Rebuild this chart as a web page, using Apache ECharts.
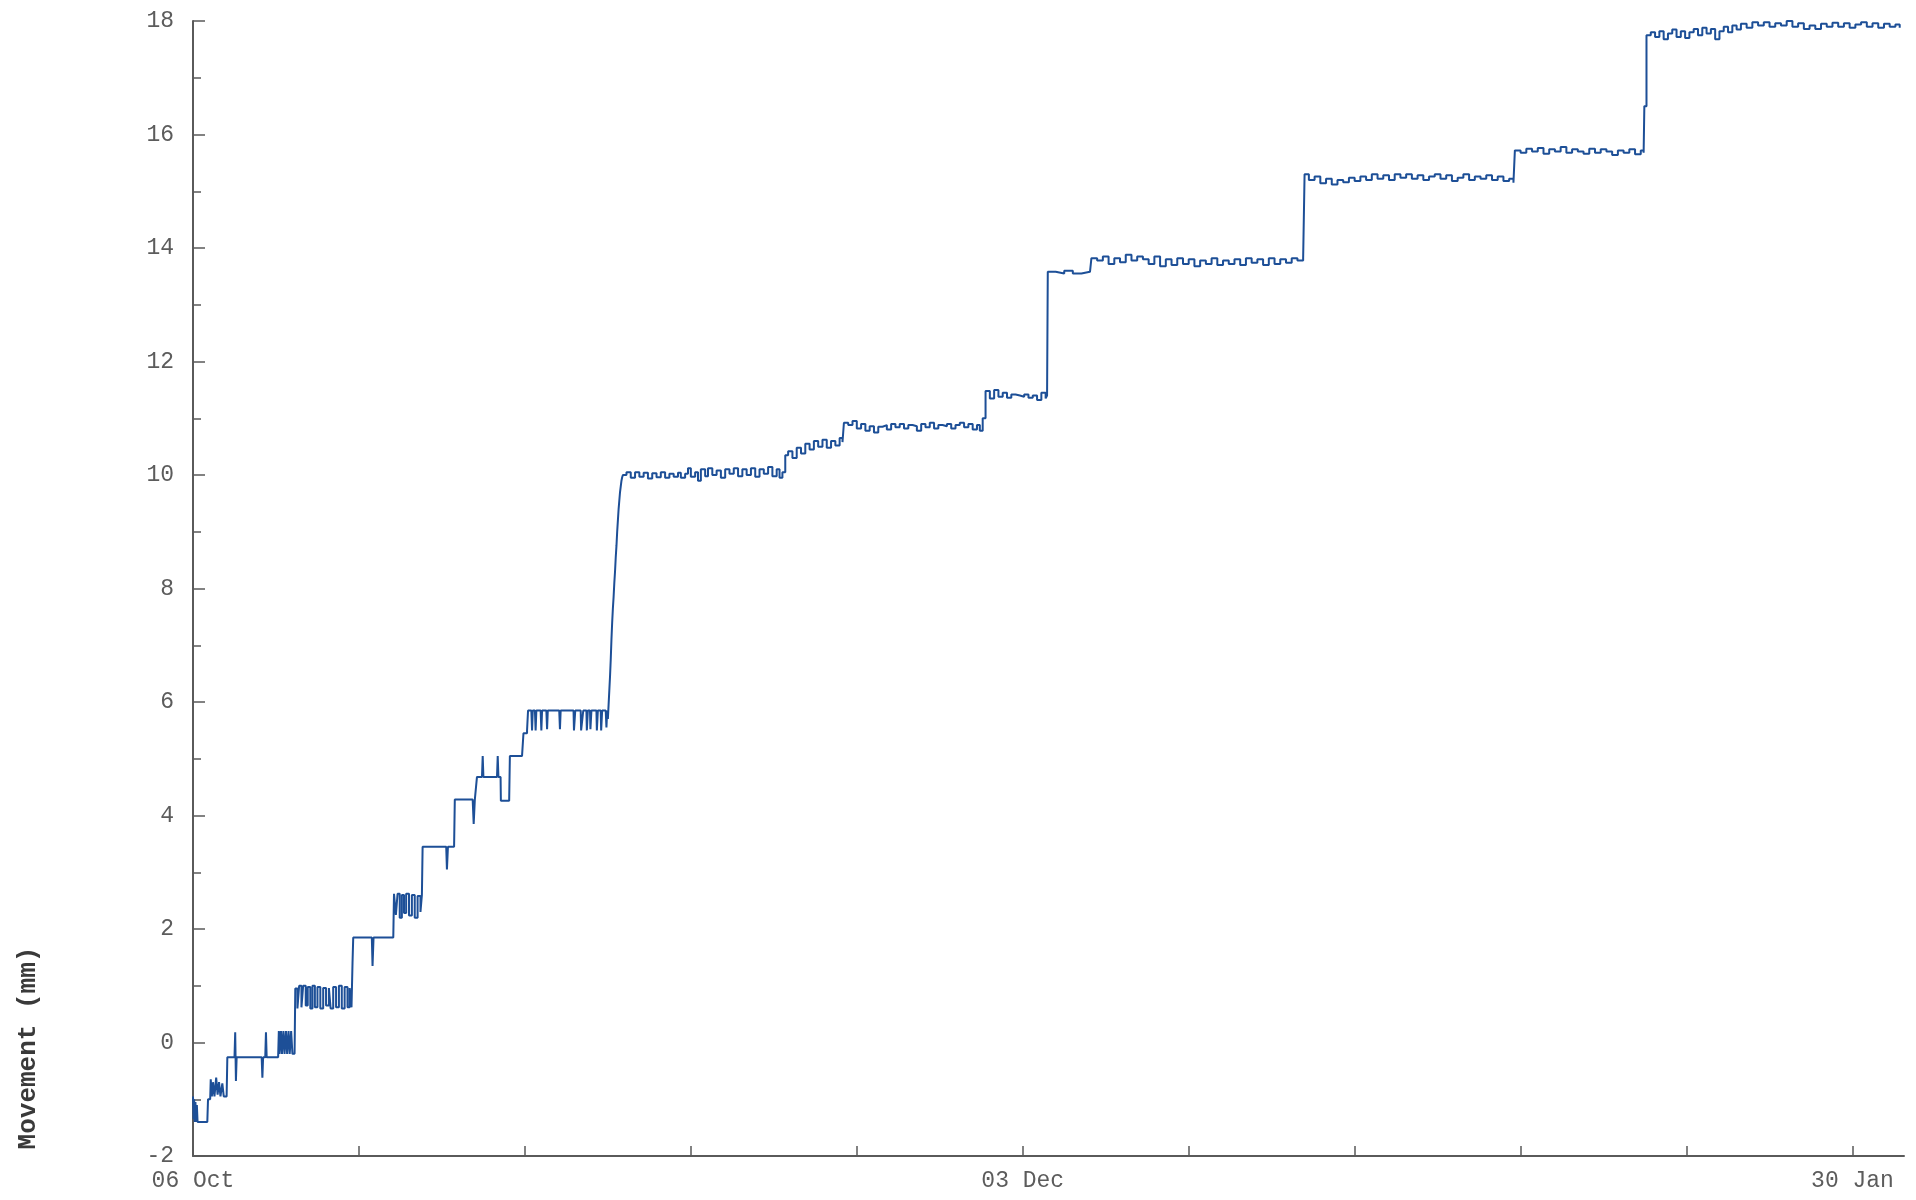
<!DOCTYPE html>
<html>
<head>
<meta charset="utf-8">
<script src="https://cdn.jsdelivr.net/npm/echarts@6/dist/echarts.min.js"></script>
<style>
html,body{margin:0;padding:0;background:#fff;}
#chart{width:1916px;height:1200px;}
</style>
</head>
<body>
<div id="chart"></div>
<script>
// Days since 06 Oct, movement in mm
const earlyReadings = [[0.00,-0.95],[0.04,-1.35],[0.08,-1.00],[0.12,-1.40],[0.17,-1.05],[0.22,-1.40],[0.27,-1.10],[0.32,-1.40],[1.00,-1.40],[1.05,-1.00],[1.20,-1.00],[1.24,-0.65],[1.32,-0.95],[1.40,-0.70],[1.50,-0.95],[1.62,-0.62],[1.72,-0.92],[1.82,-0.70],[1.92,-0.95],[2.05,-0.72],[2.15,-0.95],[2.35,-0.95],[2.40,-0.26],[2.90,-0.26],[2.95,0.18],[3.00,-0.68],[3.05,-0.26],[4.80,-0.26],[4.85,-0.62],[4.90,-0.26],[5.05,-0.26],[5.10,0.18],[5.15,-0.26],[5.95,-0.26],[6.00,0.20],[6.05,-0.20],[6.15,0.20],[6.22,-0.20],[6.32,0.20],[6.40,-0.20],[6.50,0.20],[6.58,-0.20],[6.68,0.20],[6.76,-0.20],[6.86,0.20],[6.95,-0.20],[7.10,-0.20],[7.15,0.95],[7.30,0.60],[7.42,1.00],[7.58,0.62],[7.70,1.00],[7.88,0.65],[8.02,0.98],[8.20,0.60],[8.35,1.00],[8.52,0.62],[8.70,0.98],[8.90,0.60],[9.10,0.96],[9.30,0.65],[9.50,0.96],[9.62,0.60],[9.80,0.98],[10.00,0.62],[10.20,1.00],[10.40,0.60],[10.60,0.98],[10.80,0.62],[10.95,0.96],[11.08,0.62],[11.15,1.40],[11.20,1.85],[12.50,1.85],[12.55,1.35],[12.62,1.85],[14.00,1.85],[14.05,2.62],[14.18,2.25],[14.30,2.62],[14.45,2.20],[14.60,2.60],[14.75,2.28],[14.90,2.62],[15.10,2.24],[15.30,2.60],[15.50,2.20],[15.70,2.58],[15.90,2.30],[16.00,2.60],[16.05,3.45],[17.70,3.45],[17.75,3.05],[17.82,3.45],[18.25,3.45],[18.30,4.28],[19.55,4.28],[19.62,3.85],[19.70,4.28],[19.82,4.28],[19.85,4.68],[20.20,4.68],[20.25,5.05],[20.30,4.68],[21.25,4.68],[21.30,5.05],[21.35,4.68],[21.50,4.68],[21.52,4.26],[22.10,4.26],[22.15,5.05],[23.00,5.05],[23.10,5.45],[23.35,5.50],[23.42,5.85]];
const plateauSixReadings = [[23.65,5.85],[23.70,5.50],[23.75,5.85],[23.90,5.85],[23.95,5.50],[24.00,5.85],[24.30,5.85],[24.35,5.50],[24.40,5.85],[24.70,5.85],[24.75,5.52],[24.80,5.85],[25.60,5.85],[25.65,5.52],[25.70,5.85],[26.60,5.85],[26.63,5.50],[26.68,5.50],[26.72,5.85],[27.10,5.85],[27.13,5.50],[27.25,5.50],[27.28,5.85],[27.50,5.85],[27.53,5.50],[27.60,5.85],[27.75,5.85],[27.78,5.52],[27.85,5.85],[28.20,5.85],[28.23,5.50],[28.30,5.85],[28.50,5.85],[28.53,5.50],[28.60,5.85],[28.85,5.85],[28.90,5.55],[28.95,5.85],[29.00,5.70],[29.05,5.95],[29.10,6.20],[29.15,6.45],[29.20,6.75],[29.25,7.10],[29.30,7.40],[29.35,7.65],[29.40,7.85],[29.45,8.10],[29.50,8.30],[29.55,8.55],[29.60,8.75],[29.65,9.00],[29.70,9.20],[29.75,9.40],[29.80,9.55],[29.85,9.70],[29.90,9.80],[29.95,9.90],[30.00,9.96],[30.05,10.00]];
const plateauTenReadings = [[30.3,10.05],[30.6,9.95],[30.9,10.05],[31.2,9.97],[31.5,10.04],[31.8,9.94],[32.1,10.03],[32.4,9.96],[32.7,10.05],[33.0,9.95],[33.3,10.02],[33.6,9.97],[33.9,10.04],[34.1,9.95],[34.4,10.02],[34.6,10.12],[34.8,9.97],[35.1,10.05],[35.3,9.90],[35.5,10.10],[35.8,9.98],[36.0,10.12],[36.3,10.00],[36.6,10.08],[36.9,9.95],[37.2,10.10],[37.5,10.02],[37.8,10.12],[38.1,9.98],[38.4,10.10],[38.7,10.00],[39.0,10.12],[39.3,9.97],[39.6,10.10],[39.9,10.02],[40.2,10.14],[40.5,9.98],[40.8,10.10],[41.0,9.95],[41.2,10.05],[41.4,10.35],[41.6,10.42],[41.9,10.30],[42.2,10.48],[42.5,10.38],[42.8,10.55],[43.1,10.45],[43.4,10.60],[43.7,10.50],[44.0,10.62],[44.3,10.48],[44.6,10.60],[44.9,10.52],[45.2,10.65],[45.4,10.58],[45.5,10.92],[45.8,10.88],[46.1,10.95],[46.4,10.82],[46.7,10.90],[47.0,10.78],[47.3,10.86],[47.6,10.75],[47.9,10.85],[48.2,10.88],[48.5,10.80],[48.8,10.90],[49.1,10.84],[49.4,10.90],[49.7,10.82],[50.0,10.88],[50.3,10.86],[50.6,10.78],[50.9,10.90],[51.2,10.84],[51.5,10.92],[51.8,10.82],[52.1,10.88],[52.4,10.86],[52.7,10.90],[53.0,10.82],[53.3,10.88],[53.6,10.92],[53.9,10.84],[54.2,10.90],[54.5,10.80],[54.8,10.88],[55.0,10.78],[55.2,11.00],[55.4,11.48],[55.7,11.35],[56.0,11.50],[56.3,11.38],[56.6,11.45],[56.9,11.36],[57.2,11.42],[57.5,11.40],[57.8,11.38],[58.1,11.42],[58.4,11.36],[58.7,11.40],[59.0,11.32],[59.3,11.45],[59.6,11.35],[59.7,11.40]];
const lateReadings = [[59.75,13.58],[60.3,13.55],[60.9,13.60],[61.5,13.55],[62.1,13.58],[62.7,13.55],[62.8,13.82],[63.2,13.78],[63.6,13.85],[64.0,13.72],[64.4,13.82],[64.8,13.75],[65.2,13.88],[65.6,13.78],[66.0,13.85],[66.4,13.80],[66.8,13.72],[67.2,13.85],[67.6,13.68],[68.0,13.80],[68.4,13.70],[68.8,13.82],[69.2,13.72],[69.6,13.80],[70.0,13.68],[70.4,13.78],[70.8,13.72],[71.2,13.82],[71.6,13.70],[72.0,13.78],[72.4,13.72],[72.8,13.80],[73.2,13.70],[73.6,13.82],[74.0,13.74],[74.4,13.80],[74.8,13.70],[75.2,13.82],[75.6,13.72],[76.0,13.80],[76.4,13.74],[76.8,13.82],[77.2,13.78],[77.6,13.82],[77.7,15.30],[78.0,15.20],[78.4,15.26],[78.8,15.14],[79.2,15.22],[79.6,15.12],[80.0,15.20],[80.4,15.16],[80.8,15.24],[81.2,15.18],[81.6,15.26],[82.0,15.20],[82.4,15.30],[82.8,15.22],[83.2,15.28],[83.6,15.20],[84.0,15.30],[84.4,15.24],[84.8,15.30],[85.2,15.22],[85.6,15.28],[86.0,15.20],[86.4,15.26],[86.8,15.30],[87.2,15.22],[87.6,15.28],[88.0,15.18],[88.4,15.24],[88.8,15.30],[89.2,15.20],[89.6,15.26],[90.0,15.22],[90.4,15.28],[90.8,15.20],[91.2,15.26],[91.6,15.18],[92.0,15.22],[92.3,15.15],[92.4,15.72],[92.8,15.68],[93.2,15.75],[93.6,15.70],[94.0,15.76],[94.4,15.66],[94.8,15.74],[95.2,15.70],[95.6,15.78],[96.0,15.68],[96.4,15.74],[96.8,15.70],[97.2,15.66],[97.6,15.75],[98.0,15.68],[98.4,15.74],[98.8,15.70],[99.2,15.64],[99.6,15.72],[100.0,15.68],[100.4,15.74],[100.8,15.65],[101.2,15.72],[101.4,15.68]];
const finalReadings = [[101.45,16.50],[101.6,17.75],[101.9,17.80],[102.2,17.72],[102.5,17.82],[102.8,17.68],[103.1,17.78],[103.4,17.85],[103.7,17.72],[104.0,17.82],[104.3,17.70],[104.6,17.80],[104.9,17.86],[105.2,17.75],[105.5,17.88],[105.8,17.78],[106.1,17.86],[106.4,17.68],[106.7,17.82],[107.0,17.90],[107.3,17.80],[107.6,17.92],[107.9,17.85],[108.2,17.95],[108.6,17.88],[109.0,17.98],[109.4,17.92],[109.8,17.98],[110.2,17.90],[110.6,17.96],[111.0,17.92],[111.4,18.00],[111.8,17.90],[112.2,17.96],[112.6,17.86],[113.0,17.92],[113.4,17.86],[113.8,17.95],[114.2,17.90],[114.6,17.97],[115.0,17.90],[115.4,17.96],[115.8,17.88],[116.2,17.94],[116.6,17.98],[117.0,17.90],[117.4,17.96],[117.8,17.88],[118.2,17.95],[118.6,17.90],[119.0,17.94],[119.3,17.88]];

const xTickDays = [0, 11.6, 23.2, 34.8, 46.4, 58, 69.6, 81.2, 92.8, 104.4, 116];
const xLabelDays = [0, 58, 116];
const xLabelTexts = ['06 Oct', '03 Dec', '30 Jan'];
const yTicks = [-2, 0, 2, 4, 6, 8, 10, 12, 14, 16, 18];
const yAxisTitle = 'Movement (mm)';

const series = [].concat(earlyReadings, plateauSixReadings, plateauTenReadings, lateReadings, finalReadings);

const chart = echarts.init(document.getElementById('chart'));
const axisColor = '#5a5a5a';
const monoFamily = 'Liberation Mono, DejaVu Sans Mono, monospace';
const labelFont = { fontFamily: monoFamily, fontSize: 23, color: '#5c5c5c' };

chart.setOption({
  backgroundColor: '#ffffff',
  animation: false,
  grid: { left: 193, right: 12, top: 21, bottom: 44 },
  xAxis: {
    type: 'value',
    min: 0,
    max: 119.6,
    splitLine: { show: false },
    axisLine: { onZero: false, lineStyle: { color: axisColor, width: 2 } },
    axisTick: { inside: true, length: 10, lineStyle: { color: axisColor, width: 1.5 }, customValues: xTickDays },
    axisLabel: Object.assign({
      margin: 13,
      customValues: xLabelDays,
      formatter: function (v) {
        const i = xLabelDays.findIndex(d => Math.abs(d - v) < 0.01);
        return i >= 0 ? xLabelTexts[i] : '';
      }
    }, labelFont)
  },
  yAxis: {
    type: 'value',
    min: yTicks[0],
    max: yTicks[yTicks.length - 1],
    interval: 2,
    splitLine: { show: false },
    axisLine: { show: true, onZero: false, lineStyle: { color: axisColor, width: 2 } },
    axisTick: { show: true, inside: true, length: 12, lineStyle: { color: axisColor, width: 1.5 } },
    minorTick: { show: true, splitNumber: 2, length: 8, lineStyle: { color: axisColor, width: 1.5 } },
    axisLabel: Object.assign({ margin: 19 }, labelFont)
  },
  graphic: [{
    type: 'text',
    x: 28,
    y: 1048,
    rotation: Math.PI / 2,
    style: {
      text: yAxisTitle,
      fontFamily: monoFamily,
      fontWeight: 'bold',
      fontSize: 26,
      fill: '#3a3a3a',
      align: 'center',
      verticalAlign: 'middle'
    }
  }],
  series: [{
    type: 'line',
    data: series,
    step: 'end',
    showSymbol: false,
    lineStyle: { color: '#1d4f97', width: 2 },
    itemStyle: { color: '#1d4f97' }
  }]
});
</script>
</body>
</html>
